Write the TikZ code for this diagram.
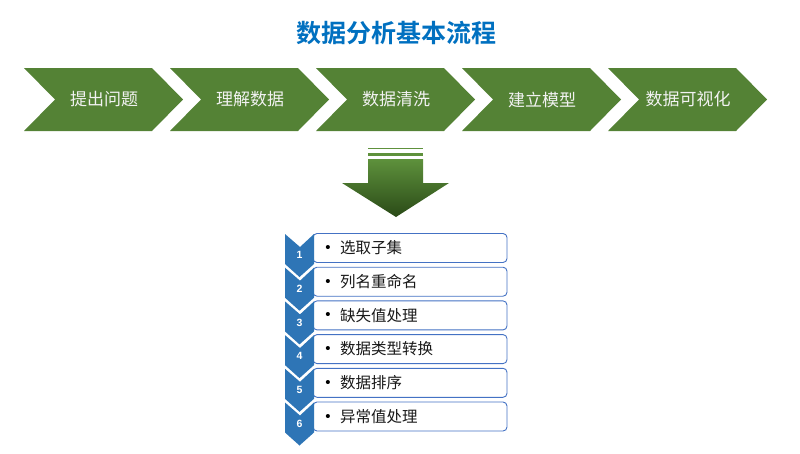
\documentclass[tikz,border=0pt]{standalone}
\usepackage{fontspec}
\setmainfont{Noto Sans CJK SC}
\newfontfamily\cjkb{Noto Sans CJK SC Bold}
\newfontfamily\numf{Liberation Sans}
\definecolor{stepgreen}{HTML}{548235}
\definecolor{stepblue}{HTML}{2E75B6}
\definecolor{boxblue}{HTML}{4472C4}
\definecolor{titleblue}{HTML}{0070C0}
\definecolor{arrtop}{HTML}{5E913C}
\definecolor{arrbot}{HTML}{2A4A17}
\begin{document}
\begin{tikzpicture}[x=1pt,y=-1pt,
  steplabel/.style={text=white!95!black, font=\fontsize{17}{19}\selectfont, inner sep=0pt},
  numlabel/.style={text=white, font=\numf\bfseries\fontsize{10.5}{12}\selectfont, inner sep=0pt},
  itemtext/.style={text=black!90, font=\fontsize{15.5}{17}\selectfont, inner sep=0pt, anchor=west},
  bulletmark/.style={text=black, font=\numf\fontsize{15}{17}\selectfont, inner sep=0pt},
  itembox/.style={draw=boxblue, line width=0.9pt, fill=white, rounded corners=4pt}]
\useasboundingbox (0,0) rectangle (800,453);
\node[text=titleblue, font=\cjkb\fontsize{25}{28}\selectfont, inner sep=0pt] (title) at (396,33) {数据分析基本流程};
\foreach \i/\t in {0/提出问题,1/理解数据,2/数据清洗,3/建立模型,4/数据可视化}{
  \pgfmathsetmacro{\xo}{24+146*\i}
  \fill[stepgreen] (\xo,68) -- (\xo+128,68) -- (\xo+159,99.5) -- (\xo+128,131) -- (\xo,131) -- (\xo+31,99.5) -- cycle;
  \node[steplabel] (s\i) at (\xo+80,99.5) {\t};
}
% down arrow
\fill[arrtop] (368,147.5) rectangle (423,148.7);
\fill[arrtop] (368,152.5) rectangle (423,155.8);
\shade[top color=arrtop, bottom color=arrbot] (368,159) -- (423,159) -- (423,183) -- (449,183) -- (396,217) -- (342,183) -- (368,183) -- cycle;
\coordinate (arrowtip) at (396,217);
\foreach \k/\t in {1/选取子集,2/列名重命名,3/缺失值处理,4/数据类型转换,5/数据排序,6/异常值处理}{
  \pgfmathsetmacro{\tp}{234+33.7*(\k-1)}
  \draw[itembox] (313,\tp-0.5) rectangle (507,\tp+28.5);
  \fill[stepblue] (285,\tp) -- (300,\tp+13) -- (314,\tp) -- (314,\tp+30) -- (299.5,\tp+43) -- (285,\tp+30) -- cycle;
  \node[numlabel] (n\k) at (299.5,\tp+21) {\k};
  \node[bulletmark, anchor=base] (b\k) at (328,\tp+18.5) {•};
  \node[itemtext] (t\k) at (340,\tp+14) {\t};
}
\end{tikzpicture}
\end{document}
